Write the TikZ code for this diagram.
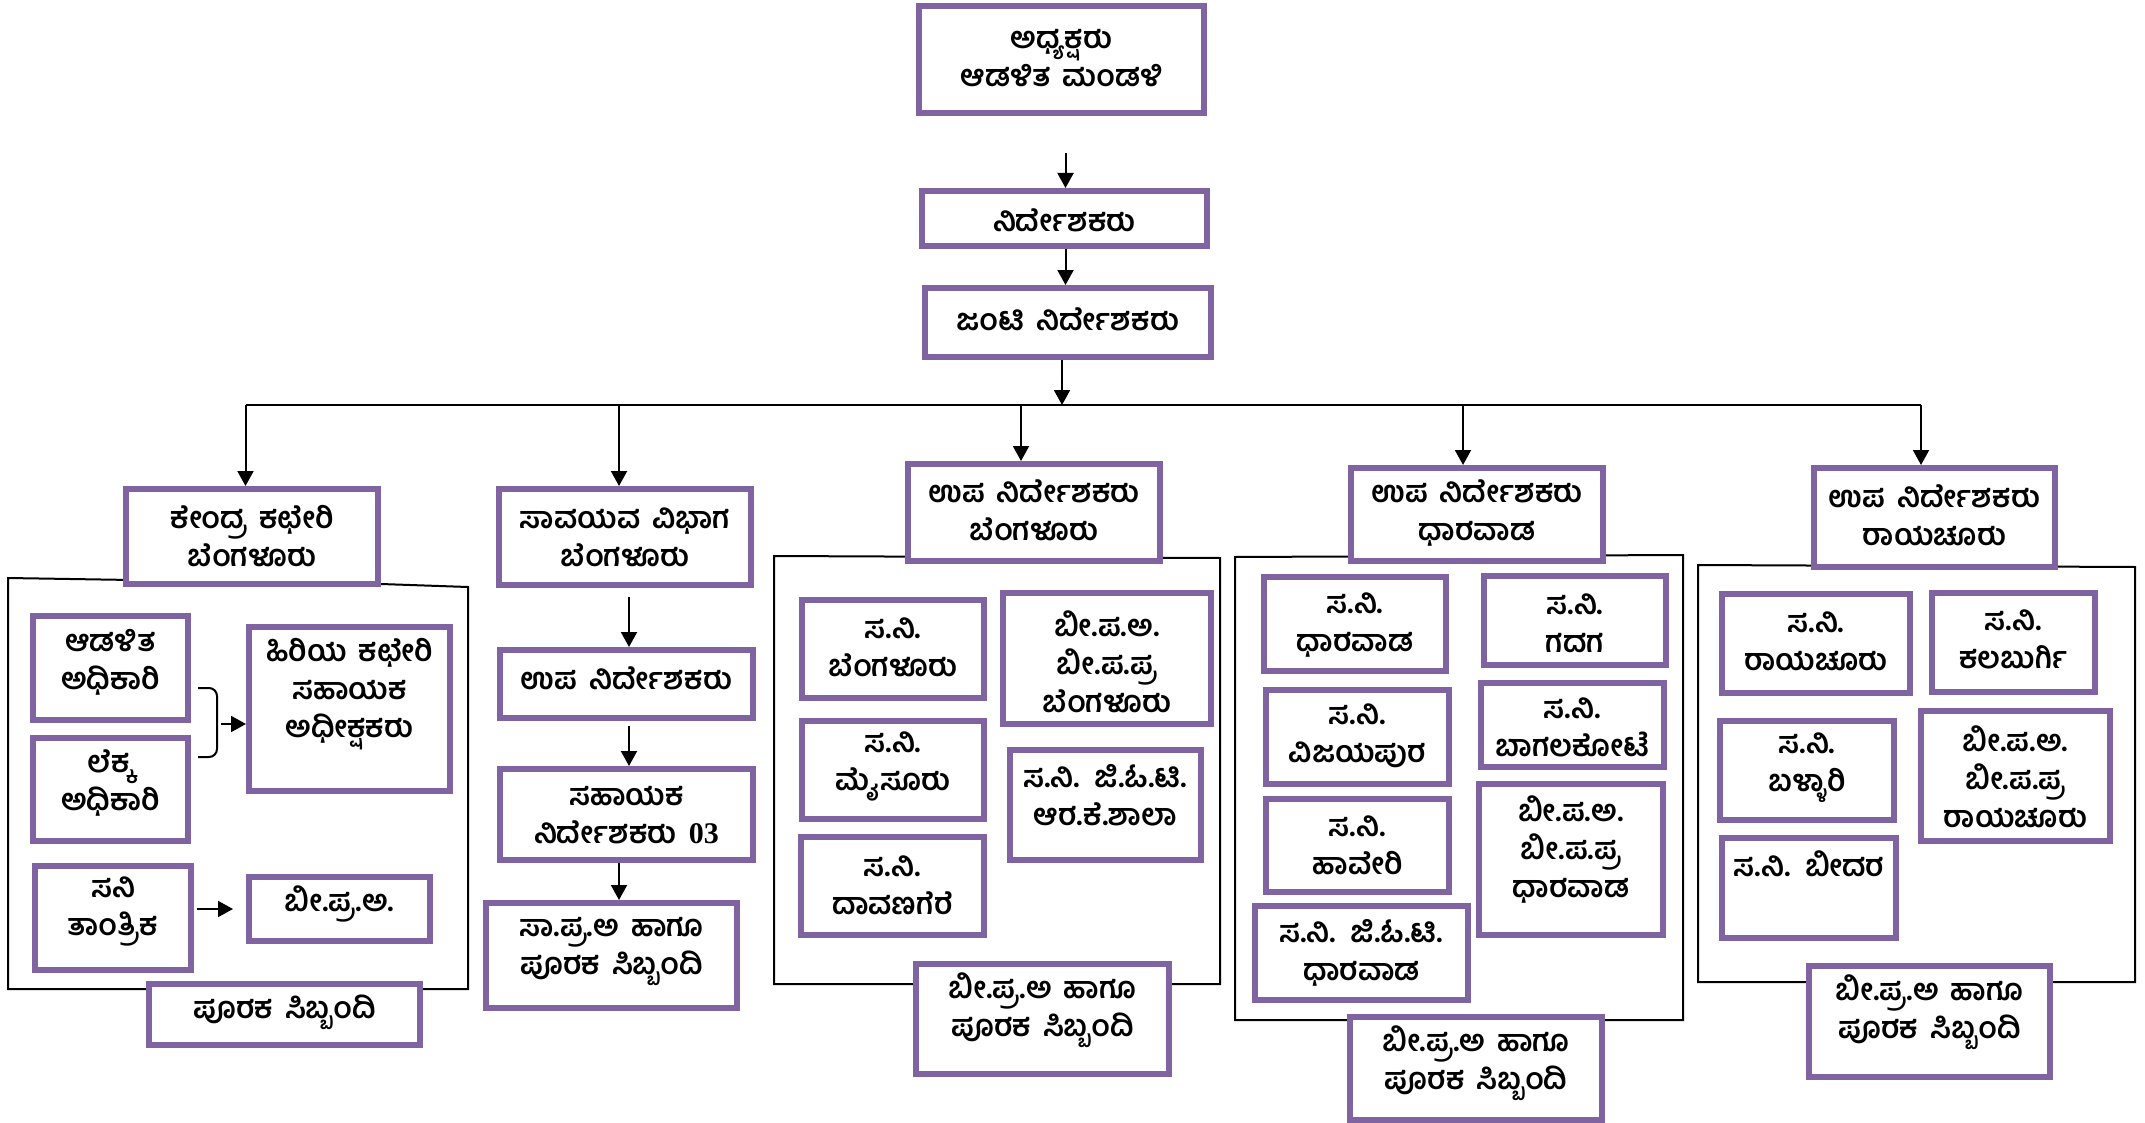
\documentclass[tikz,border=0pt]{standalone}
\usepackage{fontspec}
\newfontfamily\kn[Script=Kannada,WordSpace=1.6]{Hind Mysuru}
\newfontfamily\lser{Liberation Serif}
\usetikzlibrary{arrows.meta}
\definecolor{boxpurple}{HTML}{8064A2}
\tikzset{
  obox/.style={draw=boxpurple, line width=3pt, fill=white, inner sep=0pt},
  otxt/.style={font=\kn\bfseries\fontsize{15}{19}\selectfont, align=center, inner sep=0pt, text=black},
  conn/.style={draw=black, line width=1pt, -{Triangle[width=8pt,length=7.5pt]}},
  frame/.style={draw=black, line width=1pt},
  bar/.style={draw=black, line width=1.3pt},
}
\newcommand\obx[7]{%
  \node[obox, minimum width={(#4-#2-6)*0.5pt}, minimum height={(#5-#3-6)*0.5pt}] (#1) at ({(#2+#4)/2},{(#3+#5)/2}) {};
  \node[otxt] (#1-t) at ({(#2+#4)/2},#6) {#7};
}
\begin{document}
\begin{tikzpicture}[x=0.5pt,y=-0.5pt]
\useasboundingbox (0,0) rectangle (2145,1123);
\fill[white] (0,0) rectangle (2145,1123);

% group frames
\draw[frame] (8,578) -- (381,584) -- (468,587) -- (468,989) -- (8,989) -- cycle;
\draw[frame] (774,556) -- (1220,558) -- (1220,984) -- (774,984) -- cycle;
\draw[frame] (1235,557) -- (1683,555) -- (1683,1020) -- (1235,1020) -- cycle;
\draw[frame] (1698,565) -- (2135,567) -- (2135,982) -- (1698,982) -- cycle;

% top
\obx{chair}{916}{3}{1207}{116}{58}{ಅಧ್ಯಕ್ಷರು\\ಆಡಳಿತ ಮಂಡಳಿ}
\obx{dir}{919}{188}{1210}{249}{220}{ನಿರ್ದೇಶಕರು}
\obx{jd}{922}{285}{1214}{360}{319}{ಜಂಟಿ ನಿರ್ದೇಶಕರು}

% branch 1
\obx{ko}{123}{486}{381}{587}{536}{ಕೇಂದ್ರ ಕಛೇರಿ\\ಬೆಂಗಳೂರು}
\obx{ao}{30}{613}{191}{723}{662}{ಆಡಳಿತ\\ಅಧಿಕಾರಿ}
\obx{lo}{30}{735}{191}{844}{783}{ಲೆಕ್ಕ\\ಅಧಿಕಾರಿ}
\obx{hk}{246}{624}{453}{794}{694}{ಹಿರಿಯ ಕಛೇರಿ\\ಸಹಾಯಕ\\ಅಧೀಕ್ಷಕರು}
\obx{st}{32}{863}{194}{973}{911}{ಸನಿ\\ತಾಂತ್ರಿಕ}
\obx{bpa}{246}{874}{433}{944}{904}{ಬೀ.ಪ್ರ.ಅ.}
\obx{ps1}{146}{981}{423}{1048}{1012}{ಪೂರಕ ಸಿಬ್ಬಂದಿ}

% branch 2
\obx{sv}{496}{486}{754}{588}{537}{ಸಾವಯವ ವಿಭಾಗ\\ಬೆಂಗಳೂರು}
\obx{ud2}{497}{647}{756}{721}{678}{ಉಪ ನಿರ್ದೇಶಕರು}
\obx{sd}{497}{766}{756}{863}{815}{ಸಹಾಯಕ\\ನಿರ್ದೇಶಕರು {\lser 03}}
\obx{spa}{483}{900}{740}{1011}{951}{ಸಾ.ಪ್ರ.ಅ ಹಾಗೂ\\ಪೂರಕ ಸಿಬ್ಬಂದಿ}

% branch 3
\obx{udb}{905}{461}{1163}{564}{510}{ಉಪ ನಿರ್ದೇಶಕರು\\ಬೆಂಗಳೂರು}
\obx{snb}{799}{597}{987}{701}{647}{ಸ.ನಿ.\\ಬೆಂಗಳೂರು}
\obx{bpb}{1000}{590}{1214}{727}{662}{ಬೀ.ಪ.ಅ.\\ಬೀ.ಪ.ಪ್ರ\\ಬೆಂಗಳೂರು}
\obx{snm}{799}{718}{987}{822}{766}{ಸ.ನಿ.\\ಮೈಸೂರು}
\obx{sgr}{1007}{747}{1204}{863}{795}{ಸ.ನಿ. ಜಿ.ಓ.ಟಿ.\\ಆರ.ಕೆ.ಶಾಲಾ}
\obx{snd}{798}{834}{987}{938}{885}{ಸ.ನಿ.\\ದಾವಣಗೆರೆ}
\obx{bh3}{913}{961}{1172}{1077}{1010}{ಬೀ.ಪ್ರ.ಅ ಹಾಗೂ\\ಪೂರಕ ಸಿಬ್ಬಂದಿ}

% branch 4
\obx{udd}{1348}{465}{1606}{564}{513}{ಉಪ ನಿರ್ದೇಶಕರು\\ಧಾರವಾಡ}
\obx{sdh}{1261}{574}{1449}{674}{625}{ಸ.ನಿ.\\ಧಾರವಾಡ}
\obx{sgd}{1481}{573}{1669}{668}{623}{ಸ.ನಿ.\\ಗದಗ}
\obx{svj}{1263}{687}{1452}{787}{736}{ಸ.ನಿ.\\ವಿಜಯಪುರ}
\obx{sbg}{1478}{680}{1667}{770}{727}{ಸ.ನಿ.\\ಬಾಗಲಕೋಟೆ}
\obx{shv}{1263}{796}{1452}{895}{845}{ಸ.ನಿ.\\ಹಾವೇರಿ}
\obx{bpd}{1476}{781}{1666}{938}{850}{ಬೀ.ಪ.ಅ.\\ಬೀ.ಪ.ಪ್ರ\\ಧಾರವಾಡ}
\obx{sgd2}{1252}{903}{1471}{1003}{953}{ಸ.ನಿ. ಜಿ.ಓ.ಟಿ.\\ಧಾರವಾಡ}
\obx{bh4}{1347}{1014}{1605}{1123}{1063}{ಬೀ.ಪ್ರ.ಅ ಹಾಗೂ\\ಪೂರಕ ಸಿಬ್ಬಂದಿ}

% branch 5
\obx{udr}{1811}{465}{2058}{570}{515}{ಉಪ ನಿರ್ದೇಶಕರು\\ರಾಯಚೂರು}
\obx{srr}{1719}{591}{1913}{696}{641}{ಸ.ನಿ.\\ರಾಯಚೂರು}
\obx{skb}{1929}{590}{2098}{695}{639}{ಸ.ನಿ.\\ಕಲಬುರ್ಗಿ}
\obx{sbl}{1717}{718}{1897}{823}{768}{ಸ.ನಿ.\\ಬಳ್ಳಾರಿ}
\obx{bpr}{1918}{708}{2113}{844}{777}{ಬೀ.ಪ.ಅ.\\ಬೀ.ಪ.ಪ್ರ\\ರಾಯಚೂರು}
\obx{sbd}{1719}{835}{1899}{941}{864}{ಸ.ನಿ. ಬೀದರ}
\obx{bh5}{1806}{963}{2053}{1080}{1012}{ಬೀ.ಪ್ರ.ಅ ಹಾಗೂ\\ಪೂರಕ ಸಿಬ್ಬಂದಿ}

% top connectors
\coordinate (a1s) at (1065.5,153);
\draw[conn] (a1s) -- (a1s |- dir.north);
\draw[conn] (dir.south -| a1s) -- (jd.north -| a1s);
\coordinate (jbar) at (1062,405);
\draw[conn] (jbar |- jd.south) -- (jbar);

% distribution bar
\coordinate (c1) at (245.5,405);
\coordinate (c2) at (619,405);
\coordinate (c3) at (1021,405);
\coordinate (c4) at (1463,405);
\coordinate (c5) at (1921,405);
\draw[bar] (c1) -- (c5);
\draw[conn] (c1) -- (c1 |- ko.north);
\draw[conn] (c2) -- (c2 |- sv.north);
\draw[conn] (c3) -- (c3 |- udb.north);
\draw[conn] (c4) -- (c4 |- udd.north);
\draw[conn] (c5) -- (c5 |- udr.north);

% branch 2 chain
\coordinate (x629) at (629,0);
\coordinate (x619) at (619,0);
\draw[conn, shorten <=4.5pt] (x629 |- sv.south) -- (x629 |- ud2.north);
\draw[conn, shorten <=2.5pt] (x629 |- ud2.south) -- (x629 |- sd.north);
\draw[conn] (x619 |- sd.south) -- (x619 |- spa.north);

% branch 1 bracket and arrows
\draw[line width=1pt, rounded corners=4pt] (198,688) -- (217,688) -- (217,757) -- (198,757);
\coordinate (brk) at (217,724);
\draw[conn, shorten <=2pt] (brk) -- (brk -| hk.west);
\draw[conn, shorten <=1.5pt, shorten >=6.5pt] (bpa.west -| st.east) -- (bpa.west);
\end{tikzpicture}
\end{document}
